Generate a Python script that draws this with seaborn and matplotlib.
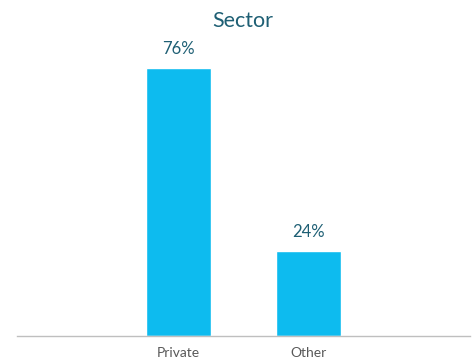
import matplotlib
matplotlib.use("Agg")
import matplotlib.pyplot as plt
import seaborn as sns
import pandas as pd

categories = ["Private", "Other"]
values = [76, 24]
labels = ["76%", "24%"]

sns.set_style("white")
plt.rcParams['font.family'] = ['Lato', 'DejaVu Sans']

df = pd.DataFrame({"sector": categories, "share": values})

fig = plt.figure(figsize=(4.76, 3.6), dpi=100)
ax = fig.add_axes([17/476, 24/360, 453/476, 296/360])

sns.barplot(data=df, x="sector", y="share", color="#0DBBEF", saturation=1,
            width=0.5, ax=ax)

for c in ax.containers:
    ax.bar_label(c, labels=labels[:len(c)] if len(c) > 1 else None,
                 fmt="%d%%", padding=8, fontsize=12, color="#1E5F74")

ax.set_xlim(-1.242, 2.242)
ax.set_ylim(0, 84)
ax.set_xlabel("")
ax.set_ylabel("")
ax.set_yticks([])
ax.tick_params(axis="x", length=0, pad=8, labelsize=10, labelcolor="#595959")
for s in ["top", "right", "left"]:
    ax.spines[s].set_visible(False)
ax.spines["bottom"].set_color("#BFBFBF")
ax.spines["bottom"].set_linewidth(1)

fig.text(0.511, 0.943, "Sector", ha="center", va="center", fontsize=15.5,
         color="#1E5F74")

fig.savefig("out.png", dpi=100)
